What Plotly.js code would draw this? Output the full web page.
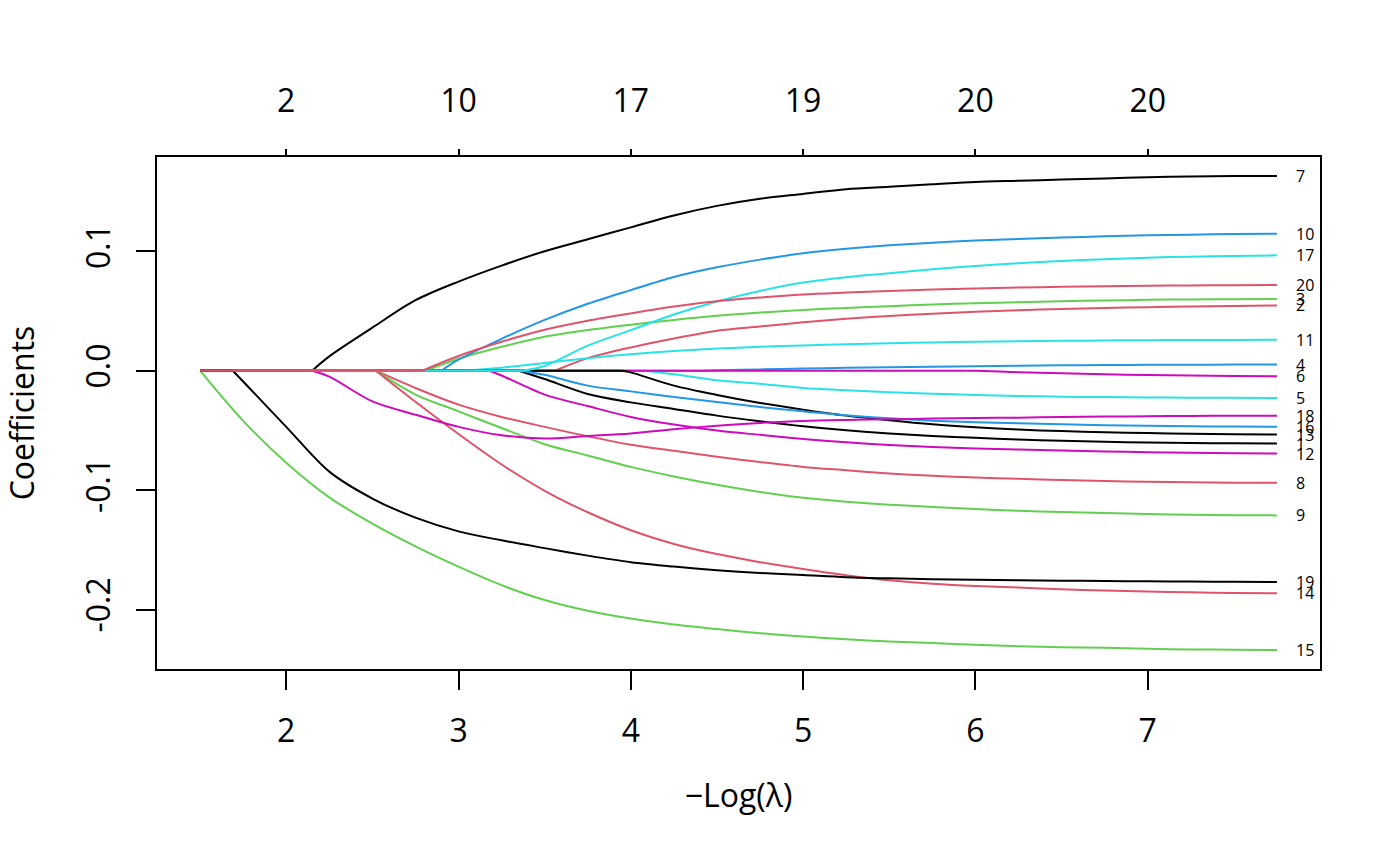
<!DOCTYPE html>
<html>
<head>
<meta charset="utf-8">
<script src="https://cdn.plot.ly/plotly-3.0.1.min.js"></script>
<style>
  html, body { margin: 0; padding: 0; background: #ffffff; }
  #chart { width: 1400px; height: 866px; }
</style>
</head>
<body>
<div id="chart"></div>
<script>
// -Log(lambda) grid at which coefficients were read
const logLambda = [1.5, 1.75, 2.0, 2.25, 2.5, 2.75, 3.0, 3.25, 3.5, 3.75, 4.0, 4.25, 4.5, 4.75,
                   5.0, 5.25, 5.5, 5.75, 6.0, 6.25, 6.5, 6.75, 7.0, 7.25, 7.5, 7.75];

// -Log(lambda) at which each variable enters the model
const entryAt = {
  1: 3.35, 2: 3.56, 3: 2.81, 4: 4.4, 5: 4.08, 6: 5.95, 7: 2.15, 8: 2.52, 9: 2.52, 10: 2.9,
  11: 3.04, 12: 3.18, 13: 3.95, 14: 2.52, 15: 1.5, 16: 3.35, 17: 3.37, 18: 2.15, 19: 1.69, 20: 2.79
};

// coefficient paths (one value per logLambda point)
const coef1  = [0,0,0,0,0,0,0,0,-0.007,-0.0195,-0.0265,-0.032,-0.0376,-0.0423,-0.0465,-0.0499,-0.0526,-0.0546,-0.0562,-0.0576,-0.0587,-0.0595,-0.0601,-0.0605,-0.0608,-0.061];
const coef2  = [0,0,0,0,0,0,0,0,0,0.0105,0.0195,0.027,0.0335,0.037,0.0405,0.0434,0.0458,0.0477,0.0493,0.0507,0.0517,0.0525,0.0532,0.0538,0.0542,0.0546];
const coef3  = [0,0,0,0,0,0,0.010,0.020,0.0284,0.034,0.0385,0.0425,0.046,0.0487,0.0509,0.0526,0.054,0.0554,0.0565,0.0574,0.0582,0.0588,0.0593,0.0597,0.0599,0.0601];
const coef4  = [0,0,0,0,0,0,0,0,0,0,0,0,0.0004,0.0011,0.0018,0.0024,0.0029,0.0034,0.0038,0.0042,0.0045,0.0047,0.0049,0.005,0.0051,0.0052];
const coef5  = [0,0,0,0,0,0,0,0,0,0,0,-0.003,-0.008,-0.011,-0.0145,-0.0164,-0.018,-0.0192,-0.0203,-0.0212,-0.0217,-0.0221,-0.0224,-0.0226,-0.0227,-0.0228];
const coef6  = [0,0,0,0,0,0,0,0,0,0,0,0,0,0,0,0,0,0,0,-0.0012,-0.0022,-0.003,-0.0036,-0.0041,-0.0044,-0.0047];
const coef7  = [0,0,0,0.012,0.036,0.059,0.0746,0.088,0.100,0.110,0.120,0.130,0.138,0.144,0.148,0.152,0.154,0.156,0.158,0.159,0.160,0.161,0.162,0.1625,0.163,0.163];
const coef8  = [0,0,0,0,0,-0.0145,-0.0284,-0.0387,-0.047,-0.0549,-0.062,-0.067,-0.072,-0.0765,-0.0805,-0.0833,-0.086,-0.088,-0.0894,-0.0905,-0.0915,-0.0923,-0.093,-0.0934,-0.0937,-0.0938];
const coef9  = [0,0,0,0,0,-0.020,-0.034,-0.048,-0.0615,-0.071,-0.0805,-0.0885,-0.0955,-0.1015,-0.1064,-0.1097,-0.1122,-0.114,-0.1158,-0.1172,-0.1183,-0.1192,-0.120,-0.1205,-0.1209,-0.1211];
const coef10 = [0,0,0,0,0,0,0.0092,0.0267,0.0425,0.056,0.0675,0.0785,0.0866,0.093,0.0984,0.1021,0.105,0.1072,0.1089,0.1103,0.1115,0.1125,0.1133,0.1139,0.1144,0.1147];
const coef11 = [0,0,0,0,0,0,0,0.0025,0.0065,0.0105,0.0138,0.0165,0.0185,0.020,0.0212,0.0222,0.023,0.0237,0.0242,0.0246,0.025,0.0253,0.0255,0.0257,0.0258,0.0259];
const coef12 = [0,0,0,0,0,0,0,-0.004,-0.020,-0.0296,-0.0387,-0.0451,-0.0501,-0.0537,-0.0571,-0.0599,-0.0621,-0.0638,-0.0652,-0.066,-0.0668,-0.0676,-0.0682,-0.0687,-0.069,-0.0693];
const coef13 = [0,0,0,0,0,0,0,0,0,0,-0.0014,-0.0125,-0.0203,-0.027,-0.0326,-0.0376,-0.0415,-0.0449,-0.0474,-0.0493,-0.0505,-0.0515,-0.0522,-0.0528,-0.0532,-0.0535];
const coef14 = [0,0,0,0,0,-0.026,-0.053,-0.0785,-0.1005,-0.1185,-0.1335,-0.145,-0.1535,-0.1603,-0.166,-0.1712,-0.1755,-0.1783,-0.1802,-0.1815,-0.183,-0.184,-0.1848,-0.1855,-0.186,-0.1863];
const coef15 = [0,-0.042,-0.077,-0.106,-0.128,-0.147,-0.164,-0.1795,-0.192,-0.201,-0.2075,-0.2125,-0.2163,-0.2197,-0.2225,-0.2247,-0.2267,-0.228,-0.2295,-0.2306,-0.2315,-0.232,-0.2328,-0.2333,-0.2336,-0.2338];
const coef16 = [0,0,0,0,0,0,0,0,-0.0034,-0.0125,-0.0173,-0.022,-0.0262,-0.0304,-0.034,-0.0373,-0.0398,-0.0418,-0.0432,-0.044,-0.0449,-0.0456,-0.0461,-0.0465,-0.0468,-0.047];
const coef17 = [0,0,0,0,0,0,0,0,0.004,0.021,0.034,0.047,0.058,0.0668,0.0738,0.0783,0.0816,0.085,0.0877,0.090,0.0918,0.0933,0.0946,0.0955,0.0961,0.0966];
const coef18 = [0,0,0,-0.005,-0.0257,-0.0368,-0.047,-0.054,-0.0568,-0.0547,-0.0525,-0.049,-0.046,-0.0437,-0.042,-0.0412,-0.0407,-0.0401,-0.0396,-0.0393,-0.0388,-0.0384,-0.0381,-0.0379,-0.0377,-0.0376];
const coef19 = [0,-0.009,-0.047,-0.0845,-0.107,-0.123,-0.1345,-0.142,-0.1485,-0.1548,-0.1603,-0.164,-0.167,-0.1693,-0.171,-0.1728,-0.1738,-0.1745,-0.175,-0.1755,-0.1758,-0.176,-0.1763,-0.1765,-0.1767,-0.1768];
const coef20 = [0,0,0,0,0,0,0.0123,0.0242,0.0343,0.0418,0.048,0.0537,0.0582,0.0613,0.0638,0.0654,0.0668,0.068,0.0688,0.0696,0.0702,0.0707,0.0711,0.0714,0.0716,0.0718];

const paths = [coef1, coef2, coef3, coef4, coef5, coef6, coef7, coef8, coef9, coef10,
               coef11, coef12, coef13, coef14, coef15, coef16, coef17, coef18, coef19, coef20];

// top axis: number of non-zero coefficients
const dfAt     = [2, 3, 4, 5, 6, 7];
const dfLabels = ['2', '10', '17', '19', '20', '20'];

const xTicks  = [2, 3, 4, 5, 6, 7];
const yTicks  = [-0.2, -0.1, 0.0, 0.1];
const yLabels = ['-0.2', '-0.1', '0.0', '0.1'];

// R default palette, cycled by matplot
const palette = ['#000000', '#DF536B', '#61D04F', '#2297E6', '#28E2E5', '#CD0BBC'];

const FONT = 'Open Sans, Noto Sans, sans-serif';

const traces = [];
const annotations = [];
paths.forEach((vals, i) => {
  const k = i + 1;
  const e = entryAt[k];
  const col = palette[i % 6];
  // zero part before the variable enters
  const zx = [], zy = [];
  logLambda.forEach((g) => { if (g < e) { zx.push(g); zy.push(0); } });
  zx.push(e); zy.push(0);
  if (zx.length > 1) {
    traces.push({
      x: zx, y: zy, type: 'scatter', mode: 'lines',
      line: { color: col, width: 2 }, hoverinfo: 'skip', showlegend: false
    });
  }
  // active part
  const ax = [e], ay = [0];
  logLambda.forEach((g, j) => { if (g > e) { ax.push(g); ay.push(vals[j]); } });
  traces.push({
    x: ax, y: ay, type: 'scatter', mode: 'lines',
    line: { color: col, width: 2, shape: 'spline', smoothing: 0.9 },
    hoverinfo: 'skip', showlegend: false
  });
  annotations.push({
    x: logLambda[logLambda.length - 1], y: vals[vals.length - 1],
    xref: 'x', yref: 'y', text: String(k), showarrow: false,
    xanchor: 'left', yanchor: 'middle', xshift: 17,
    font: { family: FONT, size: 16, color: '#000000' }
  });
});

// carrier trace for the top (df) axis
traces.push({
  x: dfAt, y: dfAt.map(() => null), xaxis: 'x2', yaxis: 'y',
  type: 'scatter', mode: 'lines', hoverinfo: 'skip', showlegend: false
});

const layout = {
  width: 1400, height: 866,
  paper_bgcolor: '#ffffff', plot_bgcolor: '#ffffff',
  margin: { l: 157, r: 80, t: 157, b: 197, pad: 0 },
  font: { family: FONT, size: 32, color: '#000000' },
  showlegend: false,
  xaxis: {
    range: [1.25, 8.0], tickvals: xTicks, ticktext: xTicks.map(String),
    ticks: 'outside', ticklen: 19, tickwidth: 2, tickcolor: '#000000',
    showline: true, linewidth: 2, linecolor: '#000000', mirror: true,
    showgrid: false, zeroline: false, ticklabelstandoff: 14,
    tickfont: { family: FONT, size: 32, color: '#000000' },
    title: { text: '\u2212Log(\u03BB)', font: { family: FONT, size: 32, color: '#000000' }, standoff: 34 }
  },
  xaxis2: {
    overlaying: 'x', side: 'top', range: [1.25, 8.0],
    tickvals: dfAt, ticktext: dfLabels,
    ticks: 'outside', ticklen: 7, tickwidth: 2, tickcolor: '#000000',
    showline: false, showgrid: false, zeroline: false, ticklabelstandoff: 24,
    tickfont: { family: FONT, size: 32, color: '#000000' }
  },
  yaxis: {
    range: [-0.2497, 0.1789], tickvals: yTicks, ticktext: yLabels, tickangle: -90,
    ticks: 'outside', ticklen: 19, tickwidth: 2, tickcolor: '#000000',
    showline: true, linewidth: 2, linecolor: '#000000', mirror: true,
    showgrid: false, zeroline: false, ticklabelstandoff: 13,
    tickfont: { family: FONT, size: 32, color: '#000000' },
    title: { text: 'Coefficients', font: { family: FONT, size: 32, color: '#000000' }, standoff: 35 }
  },
  annotations: annotations
};

Plotly.newPlot('chart', traces, layout, { staticPlot: true, displayModeBar: false });
</script>
</body>
</html>
